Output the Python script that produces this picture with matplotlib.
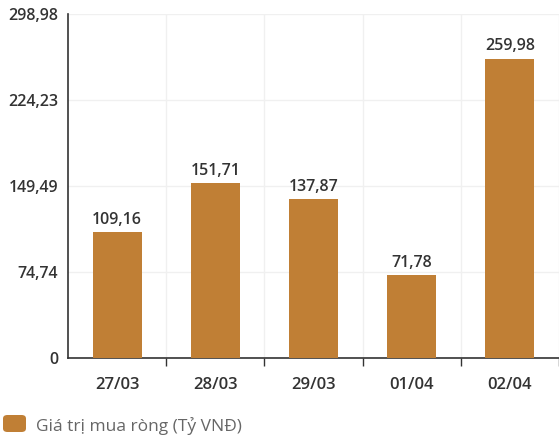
import matplotlib.pyplot as plt
import numpy as np
from matplotlib.patches import FancyBboxPatch

dates = ["27/03", "28/03", "29/03", "01/04", "02/04"]
values = [109.16, 151.71, 137.87, 71.78, 259.98]
yticks = [0, 74.74, 149.49, 224.23, 298.98]
legend_label = "Giá trị mua ròng (Tỷ VNĐ)"

plt.rcParams['font.family'] = ['Open Sans', 'DejaVu Sans']
bar_color = "#c07f35"
text_color = "#333333"

fig = plt.figure(figsize=(5.59, 4.42), dpi=100)
ax = fig.add_axes([68 / 559, 84 / 442, 1 - 68 / 559, (358 - 14) / 442])

x = np.arange(len(dates))
ax.bar(x, values, width=0.5, color=bar_color, zorder=3)
for xi, v in zip(x, values):
    ax.text(xi, v + 4, f"{v:.2f}".replace(".", ","), ha="center", va="bottom",
            fontsize=11.5, fontweight="semibold", color=text_color, zorder=4)

ax.set_xlim(-0.5, -0.5 + (559 - 68) / 99.2)
ax.set_ylim(0, 298.98)
ax.set_yticks(yticks)
ax.set_yticklabels([f"{t:.2f}".replace(".", ",") if t else "0" for t in yticks],
                   fontweight="semibold")
ax.set_xticks(x)
ax.set_xticklabels(dates, fontweight="semibold")
ax.set_xticks(np.arange(len(dates)) + 0.5, minor=True)

ax.tick_params(axis="x", which="major", length=0, pad=14, labelsize=12, labelcolor=text_color)
ax.tick_params(axis="x", which="minor", length=6, width=1, color="#333333", direction="out")
ax.tick_params(axis="y", length=0, pad=7, labelsize=11.5, labelcolor=text_color)

ax.grid(axis="y", color="#f0f0f0", linewidth=1, zorder=0)
ax.grid(axis="x", which="minor", color="#f0f0f0", linewidth=1, zorder=0)

for s in ["top", "right"]:
    ax.spines[s].set_visible(False)
for s in ["left", "bottom"]:
    ax.spines[s].set_color("#333333")
    ax.spines[s].set_linewidth(1.2)

# legend drawn by hand: rounded swatch + label
swatch = FancyBboxPatch((3 / 559, 10 / 442), 23 / 559, 17 / 442,
                        boxstyle="round,pad=0,rounding_size=0.008",
                        transform=fig.transFigure, facecolor=bar_color,
                        edgecolor="none")
fig.patches.append(swatch)
fig.text(36 / 559, 16 / 442, legend_label, ha="left", va="center",
         fontsize=12.5, color="#666666")

fig.savefig("out.png", dpi=100)
